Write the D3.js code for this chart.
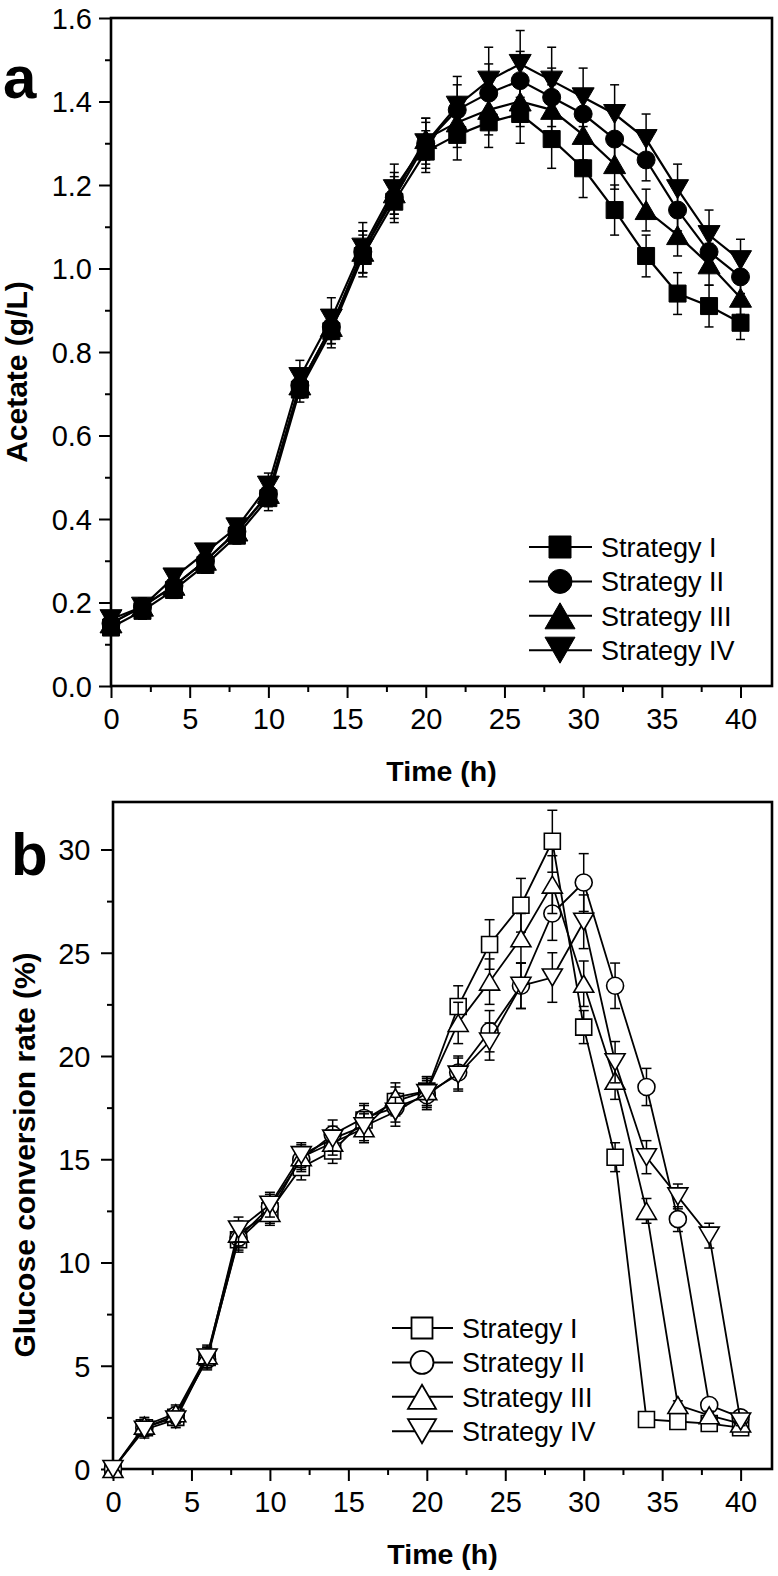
<!DOCTYPE html>
<html><head><meta charset="utf-8">
<script src="https://cdn.jsdelivr.net/npm/d3@7"></script>
<style>body{margin:0;background:#fff}svg{display:block}</style>
</head><body>
<svg id="c" width="778" height="1576"></svg>
<script>
// ---------- DATA ----------
const time = [0,2,4,6,8,10,12,14,16,18,20,22,24,26,28,30,32,34,36,38,40];
const strategies = ["Strategy I","Strategy II","Strategy III","Strategy IV"];

// Panel a: Acetate (g/L)
const acetI   = [0.14,0.18,0.23,0.29,0.36,0.45,0.71,0.85,1.03,1.16,1.28,1.32,1.35,1.37,1.31,1.24,1.14,1.03,0.94,0.91,0.87];
const acetII  = [0.15,0.19,0.24,0.30,0.37,0.46,0.72,0.86,1.04,1.17,1.30,1.38,1.42,1.45,1.41,1.37,1.31,1.26,1.14,1.04,0.98];
const acetIII = [0.15,0.19,0.24,0.30,0.37,0.46,0.72,0.86,1.04,1.18,1.31,1.35,1.38,1.40,1.38,1.32,1.25,1.14,1.08,1.01,0.93];
const acetIV  = [0.16,0.19,0.26,0.32,0.38,0.48,0.74,0.88,1.05,1.19,1.30,1.39,1.45,1.49,1.45,1.41,1.37,1.31,1.19,1.08,1.02];
const acetErrI   = [0.01,0.02,0.02,0.02,0.02,0.03,0.03,0.04,0.05,0.05,0.05,0.06,0.06,0.07,0.07,0.07,0.06,0.05,0.05,0.05,0.04];
const acetErrII  = [0.01,0.02,0.02,0.02,0.02,0.03,0.03,0.04,0.05,0.05,0.05,0.06,0.07,0.07,0.07,0.06,0.06,0.05,0.05,0.04,0.04];
const acetErrIII = [0.01,0.02,0.02,0.02,0.02,0.03,0.03,0.04,0.05,0.05,0.05,0.06,0.06,0.06,0.06,0.06,0.06,0.05,0.05,0.05,0.04];
const acetErrIV  = [0.01,0.02,0.02,0.02,0.02,0.03,0.04,0.05,0.06,0.06,0.06,0.07,0.08,0.08,0.08,0.07,0.07,0.06,0.06,0.06,0.05];

// Panel b: Glucose conversion rate (%)
const glcI   = [0,2.0,2.5,5.4,11.1,12.5,14.6,15.4,16.9,17.8,18.3,22.4,25.4,27.3,30.4,21.4,15.1,2.4,2.3,2.2,2.0];
const glcII  = [0,2.0,2.6,5.3,11.2,12.7,15.0,16.2,17.0,17.5,18.1,19.2,21.2,23.4,26.9,28.4,23.4,18.5,12.1,3.1,2.5];
const glcIII = [0,2.1,2.7,5.5,11.4,12.4,15.1,15.8,16.5,18.0,18.3,21.6,23.6,25.7,28.3,23.5,18.8,12.5,3.1,2.6,2.2];
const glcIV  = [0,1.9,2.4,5.4,11.6,12.8,15.2,16.0,16.6,17.3,18.2,19.1,20.7,23.4,23.8,26.5,19.7,15.1,13.2,11.3,2.3];
const glcErrI   = [0,0.4,0.4,0.5,0.6,0.6,0.6,0.6,0.7,0.7,0.7,1.0,1.2,1.3,1.5,0.8,0.7,0.2,0.3,0.2,0.2];
const glcErrII  = [0,0.4,0.4,0.5,0.6,0.6,0.6,0.7,0.7,0.7,0.7,0.8,1.0,1.1,1.3,1.4,1.1,0.9,0.6,0.2,0.2];
const glcErrIII = [0,0.4,0.4,0.5,0.6,0.6,0.6,0.6,0.7,0.7,0.7,1.0,1.1,1.2,1.4,1.1,0.9,0.6,0.2,0.2,0.2];
const glcErrIV  = [0,0.4,0.4,0.5,0.6,0.6,0.6,0.6,0.7,0.7,0.7,0.8,0.9,1.1,1.2,1.3,1.0,0.8,0.6,0.6,0.2];

const xTickValues = [0,5,10,15,20,25,30,35,40];
const aYTickValues = [0,0.2,0.4,0.6,0.8,1.0,1.2,1.4,1.6];
const bYTickValues = [0,5,10,15,20,25,30];

// ---------- DRAW ----------
const svg = d3.select("#c");
svg.append("rect").attr("width",778).attr("height",1576).attr("fill","#fff");
const FONT = "'Liberation Sans', Arial, Helvetica, sans-serif";

function markerPath(shape, s){
  if(shape==="square"){ const h=s.sq/2; return `M${-h},${-h}H${h}V${h}H${-h}Z`; }
  if(shape==="circle"){ const r=s.ci/2; return `M${r},0A${r},${r} 0 1,1 ${-r},0A${r},${r} 0 1,1 ${r},0Z`; }
  const w=s.tw/2, h=s.th/2;
  if(shape==="up") return `M0,${-h}L${w},${h}L${-w},${h}Z`;
  return `M0,${h}L${w},${-h}L${-w},${-h}Z`;
}
const shapes = ["square","circle","up","down"];

function drawPanel(cfg){
  const g = svg.append("g");
  const x = d3.scaleLinear().domain([0,42]).range([cfg.left,cfg.right]);
  const y = d3.scaleLinear().domain(cfg.yDomain).range([cfg.bottom,cfg.top]);

  const xa = g.append("g").attr("transform",`translate(0,${cfg.bottom})`)
    .call(d3.axisBottom(x).tickValues(xTickValues).tickSize(12).tickPadding(11).tickSizeOuter(0));
  const xm = g.append("g").attr("transform",`translate(0,${cfg.bottom})`)
    .call(d3.axisBottom(x).tickValues(xTickValues.slice(0,-1).map(v=>v+2.5)).tickSize(6).tickFormat("").tickSizeOuter(0));
  const ya = g.append("g").attr("transform",`translate(${cfg.left},0)`)
    .call(d3.axisLeft(y).tickValues(cfg.yTicks).tickSize(12).tickPadding(cfg.yPad).tickSizeOuter(0).tickFormat(cfg.yFmt));
  const ym = g.append("g").attr("transform",`translate(${cfg.left},0)`)
    .call(d3.axisLeft(y).tickValues(cfg.yMinor).tickSize(6).tickFormat("").tickSizeOuter(0));
  [xa,xm,ya,ym].forEach(a=>{
    a.select(".domain").remove();
    a.selectAll(".tick line").attr("stroke","#000").attr("stroke-width",2);
    a.selectAll(".tick text").attr("font-family",FONT).attr("font-size",29).attr("fill","#000");
  });
  xa.selectAll(".tick text").attr("dy","0.68em");
  ya.selectAll(".tick text").attr("dy","0.36em");

  g.append("rect").attr("x",cfg.left).attr("y",cfg.top)
    .attr("width",cfg.right-cfg.left).attr("height",cfg.bottom-cfg.top)
    .attr("fill","none").attr("stroke","#000").attr("stroke-width",2.6);

  cfg.series.forEach((vals,i)=>{
    const errs = cfg.errors[i];
    const sg = g.append("g");
    const line = d3.line().x((d,j)=>x(time[j])).y(d=>y(d));
    sg.append("path").attr("d",line(vals)).attr("fill","none").attr("stroke","#000").attr("stroke-width",cfg.lw);
    const eb = sg.selectAll("g.eb").data(vals).join("g");
    eb.append("line").attr("x1",(d,j)=>x(time[j])).attr("x2",(d,j)=>x(time[j]))
      .attr("y1",(d,j)=>y(d-errs[j])).attr("y2",(d,j)=>y(d+errs[j]))
      .attr("stroke","#000").attr("stroke-width",1.5);
    [-1,1].forEach(sgn=>{
      eb.append("line").attr("x1",(d,j)=>x(time[j])-cfg.cap/2).attr("x2",(d,j)=>x(time[j])+cfg.cap/2)
        .attr("y1",(d,j)=>y(d+sgn*errs[j])).attr("y2",(d,j)=>y(d+sgn*errs[j]))
        .attr("stroke","#000").attr("stroke-width",1.5);
    });
    sg.selectAll("path.m").data(vals).join("path").attr("class","m")
      .attr("transform",(d,j)=>`translate(${x(time[j])},${y(d)})`)
      .attr("d",markerPath(shapes[i],cfg.ms))
      .attr("fill",cfg.filled?"#000":"#fff").attr("stroke","#000").attr("stroke-width",cfg.filled?1:1.6);
  });

  strategies.forEach((name,i)=>{
    const ry = cfg.leg.y0 + i*cfg.leg.dy;
    const lg = g.append("g");
    lg.append("line").attr("x1",cfg.leg.l1).attr("x2",cfg.leg.l2).attr("y1",ry).attr("y2",ry)
      .attr("stroke","#000").attr("stroke-width",2);
    lg.append("path").attr("transform",`translate(${cfg.leg.cx},${ry})`)
      .attr("d",markerPath(shapes[i],cfg.lms))
      .attr("fill",cfg.filled?"#000":"#fff").attr("stroke","#000").attr("stroke-width",cfg.filled?1:1.8);
    lg.append("text").attr("x",cfg.leg.tx).attr("y",ry).attr("dy","0.36em")
      .attr("font-family",FONT).attr("font-size",27).text(name);
  });

  g.append("text").attr("x",(cfg.left+cfg.right)/2).attr("y",cfg.bottom+95)
    .attr("text-anchor","middle").attr("font-family",FONT).attr("font-weight","bold")
    .attr("font-size",28.5).text("Time (h)");
  g.append("text").attr("transform",`translate(${cfg.ytX},${cfg.ytY}) rotate(-90)`)
    .attr("text-anchor","middle").attr("font-family",FONT).attr("font-weight","bold")
    .attr("font-size",30).text(cfg.yTitle);
  g.append("text").attr("x",cfg.letter.x).attr("y",cfg.letter.y)
    .attr("font-family",FONT).attr("font-weight","bold").attr("font-size",60).text(cfg.letter.t);
}

drawPanel({
  left:111,right:772,top:18,bottom:686,yDomain:[0,1.6],
  yTicks:aYTickValues, yMinor:[0.1,0.3,0.5,0.7,0.9,1.1,1.3,1.5], yFmt:d3.format(".1f"), yPad:7,
  series:[acetI,acetII,acetIII,acetIV], errors:[acetErrI,acetErrII,acetErrIII,acetErrIV],
  filled:true, lw:2.2, cap:9,
  ms:{sq:17,ci:18,tw:22,th:19}, lms:{sq:22,ci:24,tw:30,th:26},
  leg:{y0:547,dy:34.4,cx:560,l1:529,l2:592,tx:601},
  yTitle:"Acetate (g/L)", ytX:27, ytY:372,
  letter:{t:"a",x:3,y:98}
});
drawPanel({
  left:113,right:772,top:802,bottom:1469,yDomain:[0,32.3],
  yTicks:bYTickValues, yMinor:[2.5,7.5,12.5,17.5,22.5,27.5], yFmt:d3.format("d"), yPad:10.5,
  series:[glcI,glcII,glcIII,glcIV], errors:[glcErrI,glcErrII,glcErrIII,glcErrIV],
  filled:false, lw:1.8, cap:10,
  ms:{sq:16,ci:17,tw:20,th:17}, lms:{sq:21,ci:23,tw:28,th:24},
  leg:{y0:1328,dy:34.4,cx:422,l1:392,l2:453,tx:462},
  yTitle:"Glucose conversion rate (%)", ytX:35, ytY:1155,
  letter:{t:"b",x:11,y:875}
});
</script>
</body></html>
